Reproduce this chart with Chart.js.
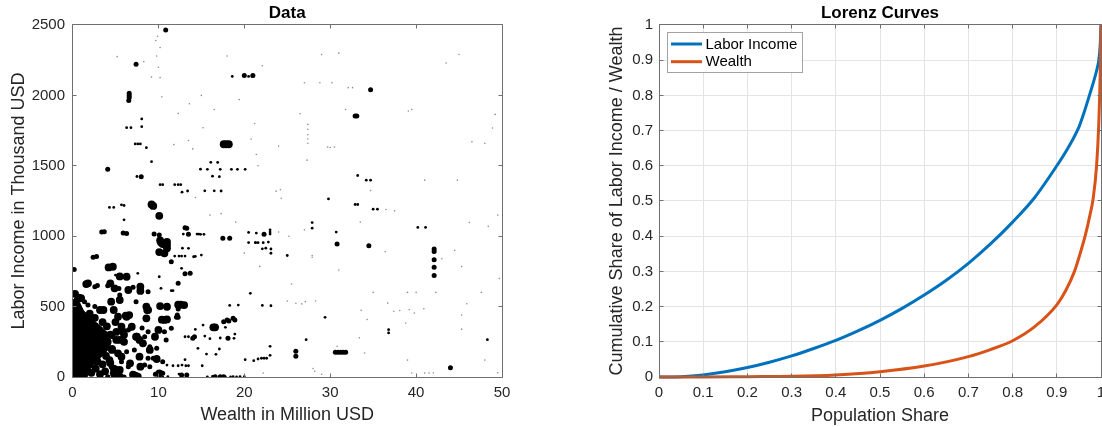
<!DOCTYPE html>
<html>
<head>
<meta charset="utf-8">
<title>Data and Lorenz Curves</title>
<script src="https://cdn.jsdelivr.net/npm/chart.js@4.4.0/dist/chart.umd.min.js"></script>
<style>
  html, body { margin: 0; padding: 0; background: #fff; }
  #wrap { position: relative; width: 1102px; height: 427px; overflow: hidden; }
  .panel { position: absolute; top: 0; width: 551px; height: 427px; }
</style>
</head>
<body>
<div id="wrap">
  <div class="panel" style="left:0"><canvas id="dataChart"></canvas></div>
  <div class="panel" style="left:551px"><canvas id="lorenzChart"></canvas></div>
</div>
<script>
'use strict';

// scatter data: [wealth in million USD, labor income in thousand USD]
// dense core of households near the origin (outline of the solid mass)
var coreOutline = [
  [0, 0], [0, 540], [0.4, 560], [0.9, 520], [1.3, 470], [1.8, 440], [2.3, 410], [2.8, 385],
  [3.3, 360], [3.8, 330], [4.2, 300], [4.4, 250], [4.2, 200], [3.6, 160], [3.0, 120],
  [2.4, 80], [1.9, 40], [1.7, 0]
];

// heavily weighted households (large markers)
var bigDots = [
  [10.1, 1145], [9.2, 1225], [9.4, 1215], [10.2, 970], [10.3, 955], [10.5, 944], [10.1, 887], [10.8, 949], [10.7, 878],
  [4.2, 778], [4.7, 783], [5.5, 714], [6.3, 712], [1.6, 660], [1.8, 665], [0.7, 563], [0.84, 558],
  [10.2, 504], [11.0, 499], [12.3, 513], [12.6, 513], [13.0, 511], [6.2, 435], [6.6, 440], [10.4, 407], [10.7, 405], [11.0, 409],
  [9.8, 128], [7.05, 17], [7.3, 9], [7.4, 2], [7.6, 2], [5.5, 2], [10.1, 26],
  [8.6, 417], [5.7, 357], [5.5, 263], [7.4, 286], [7.8, 263], [7.8, 144],
  [4.5, 535], [3.2, 476], [3.6, 476], [8.6, 500], [8.7, 476], [7.9, 641], [7.9, 611],
  [11.0, 960], [11.0, 937], [11.0, 914], [16.4, 353], [16.6, 353], [17.6, 1653], [17.9, 1653], [18.2, 1653],
  [3.7, 300], [4.1, 250], [4.6, 200], [3.9, 150], [4.4, 100], [5.1, 320], [4.8, 60], [3.8, 40], [6.0, 250],
  [5.3, 168], [4.0, 360], [3.5, 390], [5.0, 390], [6.0, 300],
  [2.2, 30], [2.7, 60], [3.2, 20], [3.5, 90], [2.9, 110], [4.3, 120],
  [1.0, 560], [2.0, 450], [2.6, 420], [4.4, 300], [0.3, 590],
  [4.4, 665], [4.9, 630], [5.5, 547], [6.5, 618], [4.8, 476], [5.3, 428], [6.3, 428], [6.9, 357], [5.9, 322],
  [7.5, 286], [8.2, 239], [5.1, 263], [4.6, 192], [5.7, 144], [6.7, 97], [7.9, 73], [5.5, 50], [4.8, 26],
  [9.0, 192], [10.0, 334], [8.8, 476], [9.6, 286]
];

// medium markers
var midDots = [
  [10.85, 2464], [7.4, 2221], [6.6, 2015], [6.6, 2000], [6.6, 1985], [6.55, 1963], [4.1, 1476], [3.4, 1029], [3.7, 1032],
  [5.9, 1022], [6.3, 1020], [9.5, 1015], [10.1, 1008], [2.4, 851], [2.8, 855], [0.2, 764], [13.1, 733], [2.9, 650],
  [2.6, 641], [4.1, 648], [4.3, 665], [5.4, 629], [7.05, 638], [8.0, 618], [8.8, 606], [7.4, 535], [5.5, 582],
  [2.6, 500], [1.4, 535], [1.8, 511],
  [8.1, 348], [6.7, 346], [4.7, 286], [6.5, 334], [8.4, 286], [8.8, 322], [10.7, 322], [10.9, 263], [6.3, 180],
  [7.2, 192], [8.8, 133], [9.4, 133], [5.7, 109], [4.5, 73], [5.1, 62], [6.5, 73], [8.4, 85], [9.0, 73], [4.1, 2],
  [4.8, 5], [6.0, 0], [9.65, 19], [10.5, 26], [10.5, 109], [9.0, 215], [9.8, 204],
  [13.3, 1057], [13.5, 1013], [17.5, 986], [18.3, 985], [22.3, 1013], [11.5, 819], [13.7, 736], [12.3, 665],
  [12.3, 483], [12.1, 424], [12.3, 424], [11.5, 346], [12.2, 440],
  [17.6, 393], [18.0, 405], [18.7, 417], [18.9, 405], [18.2, 398], [14.2, 286], [14.0, 275], [18.1, 275],
  [12.7, 14], [13.3, 14], [16.6, 2], [17.2, 2], [17.6, 2],
  [20.0, 2142], [21.0, 2142], [34.7, 2040], [32.9, 1853], [33.1, 1853], [26.0, 182], [26.0, 147],
  [30.6, 175], [30.9, 175], [31.2, 175], [31.5, 175], [31.8, 175],
  [8.0, 1423], [34.5, 932], [44.0, 66], [42.1, 909], [42.1, 892], [42.1, 833], [42.1, 779], [42.1, 720], [30.8, 944], [13.1, 1060]
];

// small markers
var smallDots = [
  [8.06, 1833], [8.06, 1778], [6.3, 1771], [6.8, 1771], [7.3, 1655], [7.6, 1655], [7.9, 1655], [8.6, 1629], [7.5, 1424], [9.2, 1529],
  [4.3, 1204], [4.8, 1204], [5.7, 1223], [6.0, 1218], [6.0, 1116],
  [10.2, 1366], [10.5, 1366], [11.9, 1366], [12.3, 1366], [12.6, 1366], [12.75, 1313], [13.4, 1321],
  [14.9, 1476], [15.7, 1475], [16.1, 1525], [16.9, 1524], [16.3, 1426], [17.1, 1423], [16.5, 1322], [15.4, 1322], [17.3, 1321],
  [17.2, 1475], [18.5, 1475], [19.2, 1475], [20.1, 1475], [18.6, 2135], [20.5, 2135], [20.9, 2135],
  [14.5, 1015], [14.7, 1015], [12.9, 1015], [14.9, 1013], [15.3, 1013], [12.8, 915], [13.5, 914], [10.9, 878],
  [11.9, 859], [12.4, 859], [12.7, 859], [13.1, 859], [14.1, 854], [14.3, 856], [15.0, 866], [12.7, 772],
  [5.0, 724], [5.3, 724], [5.6, 724], [7.6, 736], [10.1, 712], [10.3, 630], [11.5, 613], [11.7, 613],
  [18.3, 508], [19.3, 511], [22.1, 508], [23.1, 506], [20.7, 594], [21.3, 954], [21.6, 954], [22.2, 954], [23.1, 909],
  [23.0, 1045], [23.0, 1029], [23.0, 1015], [22.8, 958], [22.5, 915], [22.1, 910], [23.1, 879], [20.5, 1027], [21.4, 1022],
  [20.5, 955], [21.3, 955],
  [25.0, 863], [30.7, 1029], [29.8, 1265], [33.2, 1431], [32.9, 1225], [33.2, 1225], [34.2, 1398], [34.7, 1398],
  [35.0, 1192], [35.5, 1192], [40.2, 1062], [41.1, 1062], [27.9, 1097], [27.9, 1057], [29.4, 424], [48.3, 265],
  [27.2, 265], [36.8, 336], [36.8, 313],
  [17.8, 353], [14.3, 338], [15.2, 369], [15.4, 291], [18.9, 305], [18.8, 275], [13.1, 286], [13.5, 286], [14.6, 204],
  [16.7, 161], [17.1, 199], [16.0, 272], [17.2, 277], [18.0, 277], [15.6, 163], [13.1, 123],
  [21.1, 116], [22.0, 133], [22.3, 133], [22.6, 133], [20.1, 123], [21.6, 128], [23.0, 218], [23.0, 154],
  [11.0, 85], [11.7, 80], [12.3, 80], [12.75, 85], [13.2, 80], [13.5, 80], [15.1, 80],
  [10.5, 0], [11.1, 2], [12.4, 21], [15.7, 0], [16.3, 5], [17.8, 0], [18.4, 0], [19.1, 0], [18.7, 2], [19.5, 2], [20.0, 2]
];

// barely visible, very light weight households
var faintDots = [
  [9.9, 2420], [9.7, 2390], [10.2, 2340], [9.8, 2280], [10.0, 2200], [5.2, 2275], [8.3, 2240], [9.2, 2130], [10.2, 2126],
  [12.3, 1872], [13.6, 1941], [11.8, 1650], [10.4, 1990], [13.5, 1680], [15.2, 1770], [14.0, 1620], [16.5, 1900],
  [19.4, 1970], [20.8, 1690], [21.2, 1800], [21.4, 1580], [21.6, 1500], [22.1, 2210], [24.2, 1330], [24.3, 1270],
  [27.0, 2090], [28.8, 2090], [30.2, 2090], [32.1, 2055], [32.6, 2055], [27.4, 1794], [27.4, 1760], [27.4, 1720],
  [27.4, 1690], [27.4, 1660], [29.7, 1633], [30.5, 1633], [39.1, 1889], [39.5, 1900], [49.2, 1865], [48.9, 1768],
  [41.0, 1398], [44.8, 1398], [34.7, 1325], [46.2, 1097], [27.0, 1045], [27.9, 863], [27.9, 850], [21.8, 786],
  [45.3, 784], [35.0, 601], [39.0, 601], [40.0, 601], [42.3, 601], [47.6, 601], [25.0, 540], [26.0, 524], [26.7, 519],
  [27.1, 535], [28.3, 540], [33.6, 474], [34.3, 408], [37.4, 467], [38.1, 472], [39.2, 478], [39.8, 455], [40.9, 485],
  [38.8, 384], [45.3, 440], [45.3, 340], [30.8, 218], [33.4, 278], [28.2, 40], [29.0, 20], [28.0, 60], [39.5, 28],
  [41.0, 28], [41.5, 28], [42.0, 28], [49.5, 30], [22.2, 28], [26.5, 1870], [24.0, 1640], [37.5, 1180], [43.5, 2230],
  [45.0, 2290], [14.3, 1275], [17.3, 1160], [24.0, 1030], [25.2, 1000], [15.0, 2000], [18.0, 2280], [29.0, 2290],
  [31.0, 2300], [36.5, 1190], [46.5, 1670], [48.0, 1660], [43.0, 840], [44.5, 900], [48.4, 1070], [31.8, 1900],
  [27.3, 1540], [33.5, 1100], [36.4, 890], [36.7, 525], [49.7, 700], [49.5, 1150], [45.9, 520], [34.0, 170],
  [39.0, 120], [48.0, 120], [19.0, 1100], [20.0, 880], [16.0, 1150], [25.5, 660], [31.0, 760], [23.7, 1320], [30.0, 1630]
];

// lorenz curves: population share vs cumulative share
var popLabor = [0, 0.05, 0.1, 0.15, 0.2, 0.25, 0.3, 0.35, 0.4, 0.45, 0.5, 0.55, 0.6, 0.65, 0.7, 0.75, 0.8, 0.85, 0.9, 0.925, 0.95, 0.96, 0.975, 0.99, 0.995, 0.998, 1];
var shareLabor = [0, 0.001, 0.006, 0.015, 0.027, 0.042, 0.06, 0.081, 0.104, 0.131, 0.161, 0.195, 0.233, 0.275, 0.323, 0.378, 0.44, 0.51, 0.6, 0.65, 0.71, 0.745, 0.805, 0.87, 0.9, 0.94, 1];
var popWealth = [0, 0.1, 0.2, 0.3, 0.4, 0.5, 0.6, 0.7, 0.75, 0.8, 0.85, 0.9, 0.92, 0.94, 0.955, 0.965, 0.975, 0.982, 0.99, 0.995, 0.998, 1];
var shareWealth = [0, 0, 0.001, 0.002, 0.006, 0.015, 0.031, 0.058, 0.078, 0.103, 0.143, 0.205, 0.245, 0.3, 0.36, 0.405, 0.46, 0.505, 0.6, 0.72, 0.85, 1];

var xTicksData = [0, 10, 20, 30, 40, 50];
var yTicksData = [0, 500, 1000, 1500, 2000, 2500];

var fontFamily = '"Liberation Sans", Arial, Helvetica, sans-serif';
var tickColor = '#262626';
var axisColor = '#6f6f6f';
var tickLen = 4;

Chart.defaults.font.family = fontFamily;

// helpers
function toPoints(pairs) {
  return pairs.map(function (p) { return { x: p[0], y: p[1] }; });
}
function zipPoints(xs, ys) {
  return xs.map(function (x, i) { return { x: x, y: ys[i] }; });
}
function dotSet(pairs, radius, color) {
  return {
    data: toPoints(pairs),
    pointRadius: radius,
    pointHoverRadius: radius,
    pointBackgroundColor: color,
    pointBorderWidth: 0,
    borderWidth: 0,
    clip: 0
  };
}
// plain numbers, no thousands separator and no trailing zeros
function plainLabel(value) {
  return String(+Number(value).toFixed(2));
}

// box round the plot plus inward tick marks on all four sides
var axesBox = {
  id: 'axesBox',
  afterDraw: function (chart) {
    var ctx = chart.ctx;
    var a = chart.chartArea;
    var xs = chart.scales.x;
    var ys = chart.scales.y;
    var l = Math.floor(a.left) + 0.5, r = Math.floor(a.right) + 0.5;
    var t = Math.floor(a.top) + 0.5, b = Math.floor(a.bottom) + 0.5;
    ctx.save();
    ctx.strokeStyle = axisColor;
    ctx.lineWidth = 1;
    ctx.beginPath();
    xs.ticks.forEach(function (tk) {
      var px = Math.floor(xs.getPixelForValue(tk.value)) + 0.5;
      ctx.moveTo(px, b); ctx.lineTo(px, b - tickLen);
      ctx.moveTo(px, t); ctx.lineTo(px, t + tickLen);
    });
    ys.ticks.forEach(function (tk) {
      var py = Math.floor(ys.getPixelForValue(tk.value)) + 0.5;
      ctx.moveTo(l, py); ctx.lineTo(l + tickLen, py);
      ctx.moveTo(r, py); ctx.lineTo(r - tickLen, py);
    });
    ctx.rect(l, t, r - l, b - t);
    ctx.stroke();
    ctx.restore();
  }
};

// boxed legend in the upper left corner of the plot
var boxLegend = {
  id: 'boxLegend',
  afterDraw: function (chart) {
    var ctx = chart.ctx;
    var a = chart.chartArea;
    var x0 = Math.floor(a.left) + 8, y0 = Math.floor(a.top) + 8;
    var w = 135, h = 40;
    ctx.save();
    ctx.fillStyle = '#fff';
    ctx.fillRect(x0, y0, w, h);
    ctx.strokeStyle = '#a3a3a3';
    ctx.lineWidth = 1;
    ctx.strokeRect(x0 + 0.5, y0 + 0.5, w, h);
    chart.data.datasets.forEach(function (ds, i) {
      var cy = y0 + 12 + i * 17.7;
      ctx.strokeStyle = ds.borderColor;
      ctx.lineWidth = 3;
      ctx.beginPath();
      ctx.moveTo(x0 + 4, cy);
      ctx.lineTo(x0 + 35, cy);
      ctx.stroke();
      ctx.fillStyle = '#000';
      ctx.font = '15px ' + fontFamily;
      ctx.textBaseline = 'middle';
      ctx.fillText(ds.label, x0 + 38.5, cy + 0.5);
    });
    ctx.restore();
  }
};

function axisTitle(text, pad) {
  return { display: true, text: text, color: tickColor, font: { size: 18 }, padding: pad };
}

// left panel: scatter of the raw data
var dataChart = new Chart(document.getElementById('dataChart'), {
  type: 'scatter',
  data: {
    datasets: [
      {
        type: 'line',
        data: toPoints(coreOutline),
        borderColor: '#000',
        borderWidth: 1,
        backgroundColor: '#000',
        fill: 'shape',
        tension: 0.3,
        pointRadius: 0,
        clip: 0
      },
      dotSet(bigDots, 3.9, '#000'),
      dotSet(midDots, 2.5, '#000'),
      dotSet(smallDots, 1.4, '#000'),
      dotSet(faintDots, 0.8, 'rgba(0,0,0,0.45)')
    ]
  },
  options: {
    animation: false,
    responsive: true,
    maintainAspectRatio: false,
    devicePixelRatio: 1,
    layout: { padding: { top: 0, right: 49, bottom: 0, left: 0 } },
    events: [],
    plugins: {
      legend: { display: false },
      tooltip: { enabled: false },
      title: {
        display: true, text: 'Data', fullSize: false, color: '#000',
        font: { size: 17, weight: 'bold', lineHeight: 1.176 }, padding: { top: 3, bottom: 2 }
      }
    },
    scales: {
      x: {
        type: 'linear', min: xTicksData[0], max: xTicksData[xTicksData.length - 1],
        afterBuildTicks: function (s) { s.ticks = xTicksData.map(function (v) { return { value: v }; }); },
        ticks: { color: tickColor, font: { size: 15 }, padding: 7, maxRotation: 0, callback: plainLabel },
        grid: { display: false, drawTicks: false },
        border: { display: false },
        title: axisTitle('Wealth in Million USD', { top: 0, bottom: 1 }),
        afterFit: function (s) { s.height = 50; s.paddingLeft = 0; s.paddingRight = 0; }
      },
      y: {
        type: 'linear', min: yTicksData[0], max: yTicksData[yTicksData.length - 1],
        afterBuildTicks: function (s) { s.ticks = yTicksData.map(function (v) { return { value: v }; }); },
        ticks: { color: tickColor, font: { size: 15 }, padding: 7.5, callback: plainLabel },
        grid: { display: false, drawTicks: false },
        border: { display: false },
        title: axisTitle('Labor Income in Thousand USD', { top: 8, bottom: 0 }),
        afterFit: function (s) { s.width = 72.5; s.paddingTop = 0; s.paddingBottom = 0; }
      }
    }
  },
  plugins: [axesBox]
});

// right panel: lorenz curves
var lorenzChart = new Chart(document.getElementById('lorenzChart'), {
  type: 'scatter',
  data: {
    datasets: [
      {
        label: 'Labor Income',
        data: zipPoints(popLabor, shareLabor),
        showLine: true,
        borderColor: '#0072BD',
        borderWidth: 3,
        pointRadius: 0,
        cubicInterpolationMode: 'monotone',
        clip: 3,
        order: 1
      },
      {
        label: 'Wealth',
        data: zipPoints(popWealth, shareWealth),
        showLine: true,
        borderColor: '#D95319',
        borderWidth: 3,
        pointRadius: 0,
        cubicInterpolationMode: 'monotone',
        clip: 3,
        order: 0
      }
    ]
  },
  options: {
    animation: false,
    responsive: true,
    maintainAspectRatio: false,
    devicePixelRatio: 1,
    layout: { padding: { top: 0, right: 1, bottom: 0, left: 0 } },
    events: [],
    plugins: {
      legend: { display: false },
      tooltip: { enabled: false },
      title: {
        display: true, text: 'Lorenz Curves', fullSize: false, color: '#000',
        font: { size: 17, weight: 'bold', lineHeight: 1.176 }, padding: { top: 3, bottom: 2 }
      }
    },
    scales: {
      x: {
        type: 'linear', min: 0, max: 1,
        ticks: { stepSize: 0.1, color: tickColor, font: { size: 15 }, padding: 7, maxRotation: 0, autoSkip: false, callback: plainLabel },
        grid: { color: '#e4e4e4', drawTicks: false },
        border: { display: false },
        title: axisTitle('Population Share', { top: 0, bottom: 0 }),
        afterFit: function (s) { s.height = 50; s.paddingLeft = 0; s.paddingRight = 0; }
      },
      y: {
        type: 'linear', min: 0, max: 1,
        ticks: { stepSize: 0.1, color: tickColor, font: { size: 15 }, padding: 6, autoSkip: false, callback: plainLabel },
        grid: { color: '#e4e4e4', drawTicks: false },
        border: { display: false },
        title: axisTitle('Cumulative Share of Labor Income / Wealth', { top: 55, bottom: 0 }),
        afterFit: function (s) { s.width = 108; s.paddingTop = 0; s.paddingBottom = 0; }
      }
    }
  },
  plugins: [axesBox, boxLegend]
});
</script>
</body>
</html>
